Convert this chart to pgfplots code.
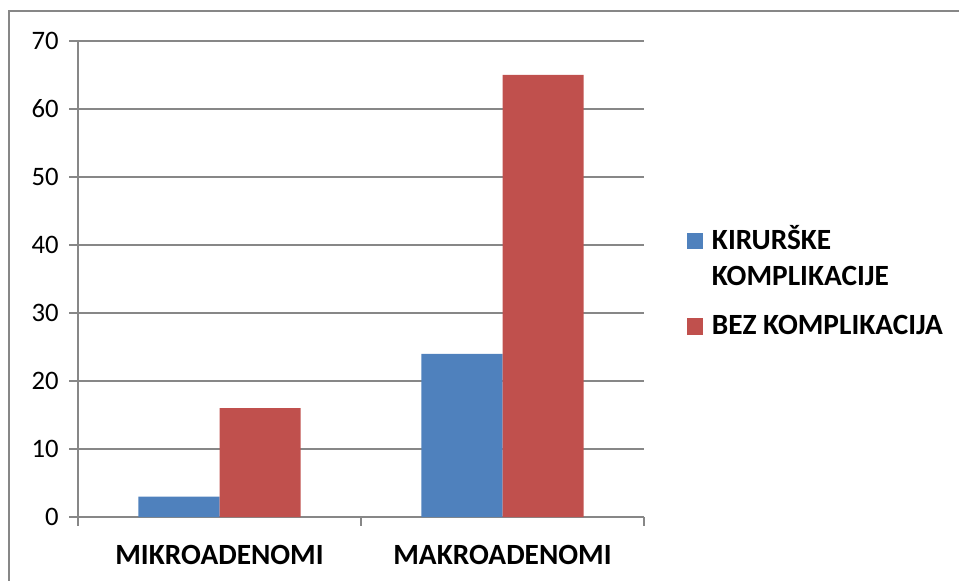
\documentclass[border=0pt]{standalone}
\usepackage{pgfplots}
\pgfplotsset{compat=1.18}
\usepackage{fontspec}
\setmainfont{Carlito}
\definecolor{blueC}{HTML}{4F81BD}
\definecolor{redC}{HTML}{C0504D}
\definecolor{axC}{HTML}{878787}
\pgfplotsset{
  /pgfplots/ybar legend/.style={
    /pgfplots/legend image code/.code={
      \fill[##1,draw=none] (0pt,0pt) rectangle (12pt,12.5pt);},
  },
}
\begin{document}
\begin{tikzpicture}
\useasboundingbox (0pt,0pt) rectangle (719.25pt,435.75pt);
\draw[axC, line width=1.5pt] (6.75pt,-20pt) -- (6.75pt,427.5pt) -- (740pt,427.5pt);
\begin{axis}[
  at={(58.5pt,48pt)}, anchor=south west,
  scale only axis, width=424.5pt, height=357pt,
  ybar=0pt, bar width=0.287,
  xmin=-0.5, xmax=1.5, ymin=0, ymax=70,
  xtick={-0.5,0.5,1.5}, xticklabels={},
  extra x ticks={0,1},
  extra x tick labels={MIKROADENOMI,MAKROADENOMI},
  extra x tick style={major tick length=0pt},
  ytick={0,10,...,70},
  axis x line=bottom, axis y line=left,
  axis line style={axC, line width=1.5pt, -},
  ymajorgrids, major grid style={axC, line width=1.5pt},
  tick style={axC, line width=1.5pt},
  tick align=outside, major tick length=6.5pt,
  /pgf/number format/assume math mode=true,
  yticklabel style={font=\fontsize{20}{24}\selectfont, xshift=-4.5pt},
  xticklabel style={font=\bfseries\fontsize{22}{26}\selectfont, inner sep=0pt, yshift=-21pt},
  legend style={at={(1.076,0.619)}, anchor=north west, draw=none, fill=none,
    font=\bfseries\fontsize{22}{26}\selectfont, row sep=7pt, column sep=4.5pt,
    inner sep=0pt, nodes={anchor=base west}},
]
\addplot[fill=blueC, draw=none] coordinates {(0,3) (1,24)};
\addlegendentry{\rule[-6pt]{0pt}{20pt}KIRURŠKE}
\addlegendimage{empty legend}
\addlegendentry{\rule[-6pt]{0pt}{20pt}KOMPLIKACIJE}
\addplot[fill=redC, draw=none] coordinates {(0,16) (1,65)};
\addlegendentry{\rule[-6pt]{0pt}{30.5pt}BEZ KOMPLIKACIJA}
\end{axis}
\end{tikzpicture}
\end{document}
